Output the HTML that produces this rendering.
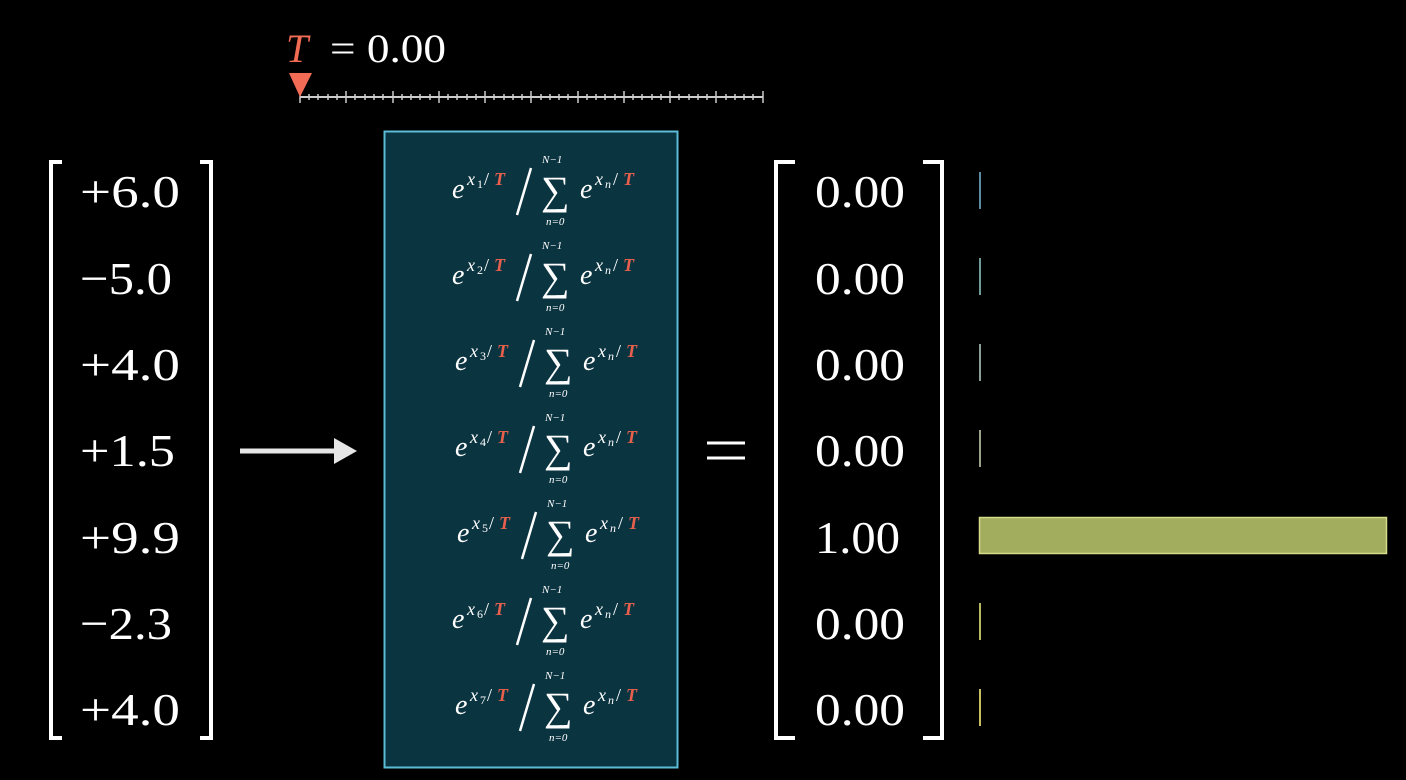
<!DOCTYPE html>
<html><head><meta charset="utf-8"><style>
html,body{margin:0;padding:0;background:#000;width:1406px;height:780px;overflow:hidden}
svg{display:block}
text{font-family:"Liberation Serif","DejaVu Serif",serif;fill:#fff}
.it{font-style:italic}
.r{fill:#e8604c;font-style:italic;font-weight:bold}
</style></head><body>
<svg width="1406" height="780" viewBox="0 0 1406 780" xmlns="http://www.w3.org/2000/svg">
<defs>
<g id="tail">
<line x1="531" y1="-22" x2="517" y2="25" stroke="#fff" stroke-width="2.5"/>
<text x="542" y="-27" font-size="11" class="it">N−1</text><text x="541" y="14" font-size="40">∑</text><text x="546" y="35" font-size="11" class="it">n=0</text>
<text x="580" y="8" class="it" font-size="28">e</text><text x="595" y="-5" font-size="18" class="it">x</text><text x="605" y="-2" font-size="12" class="it">n</text><text x="613" y="-5" font-size="18">/</text><text x="623" y="-5" font-size="18" class="r">T</text>
</g>
</defs>
<!-- T label -->
<text x="286" y="62" font-size="40" class="it" style="fill:#f26b55">T</text>
<text x="330" y="62" font-size="40" textLength="116" lengthAdjust="spacingAndGlyphs">= 0.00</text>
<!-- slider -->
<line x1="300" y1="97" x2="763" y2="97" stroke="#ccc" stroke-width="2"/>
<g stroke="#ccc" stroke-width="1.5">
<path d="M300 91V103M346 91V103M393 91V103M439 91V103M485 91V103M531 91V103M578 91V103M624 91V103M670 91V103M716 91V103M763 91V103"/>
<path d="M309 94V100M318 94V100M328 94V100M337 94V100M355 94V100M365 94V100M374 94V100M383 94V100M402 94V100M411 94V100M420 94V100M430 94V100M448 94V100M457 94V100M467 94V100M476 94V100M494 94V100M504 94V100M513 94V100M522 94V100M541 94V100M550 94V100M559 94V100M568 94V100M587 94V100M596 94V100M605 94V100M615 94V100M633 94V100M642 94V100M652 94V100M661 94V100M679 94V100M689 94V100M698 94V100M707 94V100M726 94V100M735 94V100M744 94V100M753 94V100"/>
</g>
<polygon points="289,73 312,73 300,97" fill="#f26b55"/>
<!-- left bracket -->
<path d="M62 162H51V738H62" fill="none" stroke="#fff" stroke-width="4"/>
<path d="M200 162H211V738H200" fill="none" stroke="#fff" stroke-width="4"/>
<g font-size="46">
<text x="80" y="207" textLength="100" lengthAdjust="spacingAndGlyphs">+6.0</text>
<text x="80" y="294" textLength="92" lengthAdjust="spacingAndGlyphs">−5.0</text>
<text x="80" y="380" textLength="100" lengthAdjust="spacingAndGlyphs">+4.0</text>
<text x="80" y="466" textLength="95" lengthAdjust="spacingAndGlyphs">+1.5</text>
<text x="80" y="553" textLength="100" lengthAdjust="spacingAndGlyphs">+9.9</text>
<text x="80" y="639" textLength="92" lengthAdjust="spacingAndGlyphs">−2.3</text>
<text x="80" y="725" textLength="100" lengthAdjust="spacingAndGlyphs">+4.0</text>
</g>
<!-- arrow -->
<line x1="240" y1="451" x2="338" y2="451" stroke="#e6e6e6" stroke-width="5"/>
<polygon points="334,438 357,451 334,464" fill="#e6e6e6"/>
<!-- box -->
<rect x="384.5" y="131.5" width="293" height="636" fill="#0b3441" stroke="#5bbcd6" stroke-width="2"/>
<g font-size="28">
<g transform="translate(0,190)"><text x="452" y="8" class="it">e</text><text x="467" y="-5" font-size="18" class="it">x</text><text x="477" y="-2" font-size="12">1</text><text x="484" y="-5" font-size="18">/</text><text x="494" y="-5" font-size="18" class="r">T</text><use href="#tail"/></g>
<g transform="translate(0,276)"><text x="452" y="8" class="it">e</text><text x="467" y="-5" font-size="18" class="it">x</text><text x="477" y="-2" font-size="12">2</text><text x="484" y="-5" font-size="18">/</text><text x="494" y="-5" font-size="18" class="r">T</text><use href="#tail"/></g>
<g transform="translate(3,362)"><text x="452" y="8" class="it">e</text><text x="467" y="-5" font-size="18" class="it">x</text><text x="477" y="-2" font-size="12">3</text><text x="484" y="-5" font-size="18">/</text><text x="494" y="-5" font-size="18" class="r">T</text><use href="#tail"/></g>
<g transform="translate(3,448)"><text x="452" y="8" class="it">e</text><text x="467" y="-5" font-size="18" class="it">x</text><text x="477" y="-2" font-size="12">4</text><text x="484" y="-5" font-size="18">/</text><text x="494" y="-5" font-size="18" class="r">T</text><use href="#tail"/></g>
<g transform="translate(5,534)"><text x="452" y="8" class="it">e</text><text x="467" y="-5" font-size="18" class="it">x</text><text x="477" y="-2" font-size="12">5</text><text x="484" y="-5" font-size="18">/</text><text x="494" y="-5" font-size="18" class="r">T</text><use href="#tail"/></g>
<g transform="translate(0,620)"><text x="452" y="8" class="it">e</text><text x="467" y="-5" font-size="18" class="it">x</text><text x="477" y="-2" font-size="12">6</text><text x="484" y="-5" font-size="18">/</text><text x="494" y="-5" font-size="18" class="r">T</text><use href="#tail"/></g>
<g transform="translate(3,706)"><text x="452" y="8" class="it">e</text><text x="467" y="-5" font-size="18" class="it">x</text><text x="477" y="-2" font-size="12">7</text><text x="484" y="-5" font-size="18">/</text><text x="494" y="-5" font-size="18" class="r">T</text><use href="#tail"/></g>
</g>
<!-- equals -->
<line x1="707" y1="443" x2="745" y2="443" stroke="#fff" stroke-width="3"/>
<line x1="707" y1="458" x2="745" y2="458" stroke="#fff" stroke-width="3"/>
<!-- right bracket -->
<path d="M795 162H776V738H795" fill="none" stroke="#fff" stroke-width="4"/>
<path d="M923 162H942V738H923" fill="none" stroke="#fff" stroke-width="4"/>
<g font-size="46">
<text x="815" y="207" textLength="90" lengthAdjust="spacingAndGlyphs">0.00</text>
<text x="815" y="294" textLength="90" lengthAdjust="spacingAndGlyphs">0.00</text>
<text x="815" y="380" textLength="90" lengthAdjust="spacingAndGlyphs">0.00</text>
<text x="815" y="466" textLength="90" lengthAdjust="spacingAndGlyphs">0.00</text>
<text x="815" y="553" textLength="85" lengthAdjust="spacingAndGlyphs">1.00</text>
<text x="815" y="639" textLength="90" lengthAdjust="spacingAndGlyphs">0.00</text>
<text x="815" y="725" textLength="90" lengthAdjust="spacingAndGlyphs">0.00</text>
</g>
<!-- bars -->
<rect x="979" y="172" width="2" height="37" fill="#5d8aa0"/>
<rect x="979" y="258" width="2" height="37" fill="#6f9a9a"/>
<rect x="979" y="344" width="2" height="37" fill="#8a9e98"/>
<rect x="979" y="430" width="2" height="37" fill="#98a388"/>
<rect x="979.5" y="517.5" width="407" height="36" fill="#a3ad5e" stroke="#d4dc8a" stroke-width="1.5"/>
<rect x="979" y="603" width="2" height="37" fill="#b8b860"/>
<rect x="979" y="689" width="2" height="37" fill="#c8c060"/>
</svg>
</body></html>
